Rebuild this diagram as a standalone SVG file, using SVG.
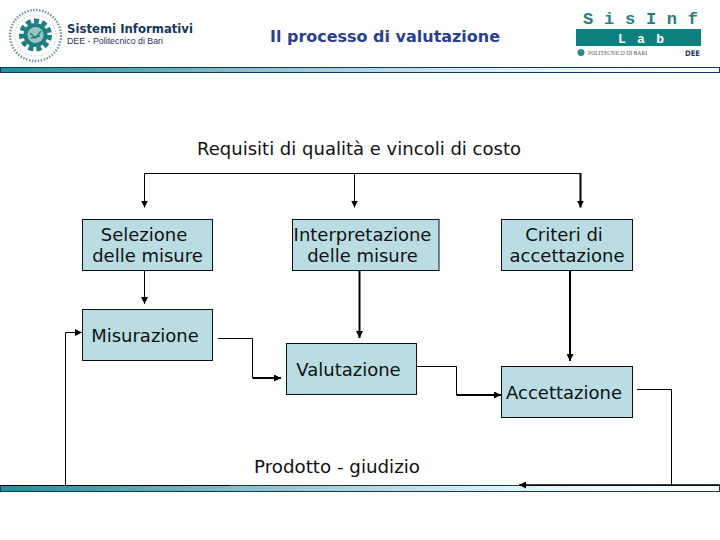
<svg xmlns="http://www.w3.org/2000/svg" width="720" height="540" viewBox="0 0 720 540">
<style>
.t{font-family:"DejaVu Sans",Verdana,sans-serif;font-size:18px;fill:#111}
.b{fill:#b9dde2;stroke:#111;stroke-width:1}
.c{fill:none;stroke:#000;stroke-width:1}
.h{fill:none;stroke:#000;stroke-width:2}
.bar{stroke:#0a3d62;stroke-width:1}
</style>
<defs>
<linearGradient id="g" x1="0" x2="1" y1="0" y2="0"><stop offset="0" stop-color="#1f8f98"/><stop offset=".35" stop-color="#8fc0c8"/><stop offset=".7" stop-color="#e2eff6"/><stop offset="1" stop-color="#fff"/></linearGradient>
<marker id="a" markerUnits="userSpaceOnUse" markerWidth="8" markerHeight="7" refX="7" refY="3.500" orient="auto"><path d="M0 0L7 3.500L0 7z" fill="#000"/></marker>
</defs>
<g id="header">
<g id="logo-left">
<circle cx="35.500" cy="35.500" r="25.500" fill="none" stroke="#6f9a9b" stroke-width="2.500" stroke-dasharray="1.500 1.500"/>
<circle cx="35.500" cy="35.500" r="20.500" fill="none" stroke="#9dbfbf" stroke-width="1" stroke-dasharray="1 2"/>
<circle cx="35.500" cy="35" r="14" fill="none" stroke="#1f7f80" stroke-width="5" stroke-dasharray="5 3"/>
<circle cx="35.500" cy="35" r="12" fill="#1f7f80"/>
<circle cx="35.500" cy="35" r="8" fill="#9cc4c4"/>
<path d="M30 33L35.500 38L41 31M31 38L40 36" fill="none" stroke="#1f7f80" stroke-width="1.500"/>
</g>
<text x="67" y="33" style="font-family:'DejaVu Sans',sans-serif;font-size:12.500px;font-weight:bold;fill:#17375e" textLength="126" lengthAdjust="spacingAndGlyphs">Sistemi Informativi</text>
<text x="67" y="44" style="font-family:'Liberation Sans',sans-serif;font-size:9.500px;fill:#17375e" textLength="96" lengthAdjust="spacingAndGlyphs">DEE - Politecnico di Bari</text>
<text x="270" y="42" style="font-family:'DejaVu Sans',sans-serif;font-size:16.500px;font-weight:bold;fill:#2a3f8f" textLength="230" lengthAdjust="spacingAndGlyphs">Il processo di valutazione</text>
<g id="logo-right">
<text x="583" y="24" style="font-family:'Liberation Mono',monospace;font-size:17px;font-weight:bold;fill:#1f8080" textLength="115" lengthAdjust="spacing">SisInf</text>
<rect x="576" y="29" width="125" height="17" fill="#0f8080"/>
<text x="618" y="42.500" style="font-family:'Liberation Mono',monospace;font-size:13px;font-weight:bold;fill:#fff" textLength="46" lengthAdjust="spacing">Lab</text>
<circle cx="581" cy="52.500" r="3.500" fill="#2f8a8f"/>
<text x="588" y="55" style="font-family:'Liberation Serif',serif;font-size:5.500px;fill:#555" textLength="59" lengthAdjust="spacingAndGlyphs">POLITECNICO DI BARI</text>
<text x="685" y="55.500" style="font-family:'DejaVu Sans',sans-serif;font-size:7.500px;font-weight:bold;fill:#17375e" textLength="15" lengthAdjust="spacingAndGlyphs">DEE</text>
</g>
</g>
<rect id="bar-top" class="bar" x=".5" y="67.500" width="719" height="5" fill="url(#g)"/>
<rect id="bar-bottom" class="bar" x=".5" y="485.500" width="719" height="6" fill="url(#g)"/>
<text class="t" x="197" y="155" textLength="324" lengthAdjust="spacingAndGlyphs">Requisiti di qualità e vincoli di costo</text>
<g id="connectors">
<path class="c" d="M354 173.500H144.500V207.500" marker-end="url(#a)"/>
<path class="c" d="M354.500 173.500V207.500" marker-end="url(#a)"/>
<path class="c" d="M354 173.500H580.500V174"/>
<path class="h" d="M580.500 173V207.500" marker-end="url(#a)"/>
<path class="c" d="M144.500 270V304" marker-end="url(#a)"/>
<path class="h" d="M359.500 271V338" marker-end="url(#a)"/>
<path class="h" d="M570 271V361" marker-end="url(#a)"/>
<path class="c" d="M218 338.500H252.500V377.500"/>
<path class="h" d="M252.500 378H281" marker-end="url(#a)"/>
<path class="c" d="M416 366.500H456.500V395"/>
<path class="h" d="M456.500 395H501" marker-end="url(#a)"/>
<path class="c" d="M637 389.500H671.500V485"/>
<path class="h" d="M720 485H519" style="stroke-width:1.500" marker-end="url(#a)"/>
<path class="c" d="M65.500 485V332.500H82" marker-end="url(#a)"/>
<path class="h" d="M0 485.500H230" style="stroke-width:1"/>
</g>
<g id="n-selezione"><rect class="b" x="82.500" y="219.500" width="130" height="51"/><text class="t" x="144" y="241" text-anchor="middle">Selezione</text><text class="t" x="147.500" y="262" text-anchor="middle">delle misure</text></g>
<g id="n-interpretazione"><rect class="b" x="292.500" y="219.500" width="146.500" height="51"/><text class="t" x="362.500" y="241" text-anchor="middle">Interpretazione</text><text class="t" x="362.500" y="262" text-anchor="middle">delle misure</text></g>
<g id="n-criteri"><rect class="b" x="501.500" y="219.500" width="131" height="51"/><text class="t" x="564" y="241" text-anchor="middle">Criteri di</text><text class="t" x="567" y="262" text-anchor="middle">accettazione</text></g>
<g id="n-misurazione"><rect class="b" x="82.500" y="309.500" width="130" height="51"/><text class="t" x="145" y="342" text-anchor="middle">Misurazione</text></g>
<g id="n-valutazione"><rect class="b" x="286.500" y="343.500" width="130" height="51"/><text class="t" x="348.500" y="376" text-anchor="middle">Valutazione</text></g>
<g id="n-accettazione"><rect class="b" x="501.500" y="366.500" width="131" height="51"/><text class="t" x="564" y="399" text-anchor="middle">Accettazione</text></g>
<text class="t" x="254" y="473" textLength="166" lengthAdjust="spacingAndGlyphs">Prodotto - giudizio</text>
</svg>
